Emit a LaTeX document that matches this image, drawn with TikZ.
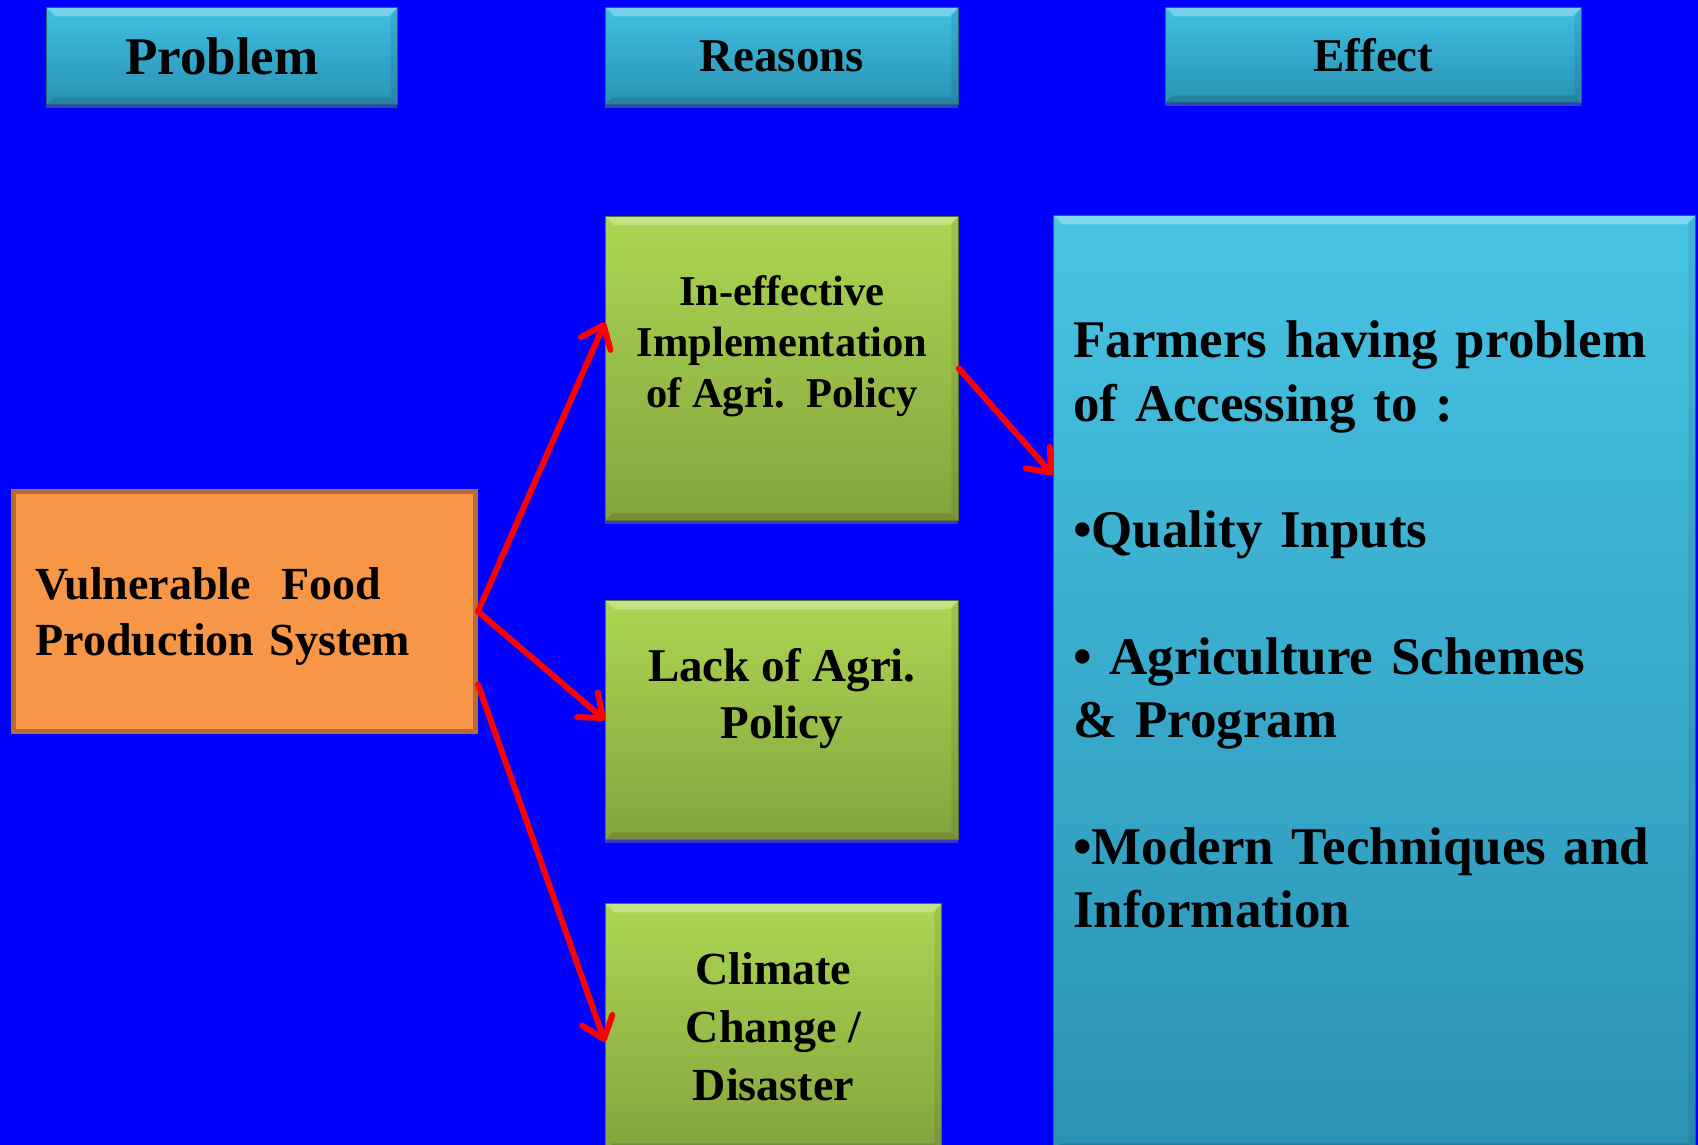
\documentclass[tikz,border=0pt]{standalone}
\usepackage{fontspec}
\setmainfont{Liberation Serif}
\usepackage{tikz}
\usetikzlibrary{arrows.meta,shadows}
\definecolor{bgblue}{RGB}{0,0,255}
\definecolor{hdtop}{RGB}{62,192,226}
\definecolor{hdbot}{RGB}{42,146,180}
\definecolor{grtop}{RGB}{172,214,82}
\definecolor{grbot}{RGB}{132,164,62}
\definecolor{orfill}{RGB}{247,150,70}
\definecolor{ordraw}{RGB}{184,106,50}
\definecolor{arrred}{RGB}{255,0,0}
\tikzstyle{bevel} = [path picture={
  \fill[white,opacity=0.3] (path picture bounding box.north west) -- (path picture bounding box.north east)
    -- ([xshift=-9pt,yshift=-9pt]path picture bounding box.north east) -- ([xshift=9pt,yshift=-9pt]path picture bounding box.north west) -- cycle;
  \fill[black,opacity=0.12] (path picture bounding box.south west) -- (path picture bounding box.south east)
    -- ([xshift=-7pt,yshift=7pt]path picture bounding box.south east) -- ([xshift=7pt,yshift=7pt]path picture bounding box.south west) -- cycle;
  \fill[black,opacity=0.08] (path picture bounding box.north east) -- (path picture bounding box.south east)
    -- ([xshift=-7pt,yshift=7pt]path picture bounding box.south east) -- ([xshift=-7pt,yshift=-9pt]path picture bounding box.north east) -- cycle;}]
\tikzstyle{headbox} = [rectangle, anchor=north west, minimum height=97pt, inner sep=0pt, top color=hdtop, bottom color=hdbot, draw=hdbot!70!black, line width=0.8pt, bevel, drop shadow={shadow xshift=0pt, shadow yshift=-4pt, opacity=0.45}, font=\bfseries\fontsize{47}{56}\selectfont]
\tikzstyle{reasonbox} = [rectangle, anchor=north west, minimum width=353pt, minimum height=239pt, inner sep=0pt, align=center, top color=grtop, bottom color=grbot, draw=grbot!70!black, line width=0.8pt, bevel, drop shadow={shadow xshift=0pt, shadow yshift=-4pt, opacity=0.45}, font=\bfseries\fontsize{47}{57}\selectfont]
\tikzstyle{probbox} = [rectangle, anchor=north west, minimum width=462pt, minimum height=240pt, inner xsep=22pt, text width=418pt, align=left, fill=orfill, draw=ordraw, line width=5pt, font=\bfseries\fontsize{46}{56}\selectfont]
\tikzstyle{effbox} = [rectangle, anchor=north west, minimum width=642pt, minimum height=935pt, inner sep=0pt, top color=hdtop!95!white, bottom color=hdbot, draw=hdbot!70!black, line width=0.8pt, bevel]
\tikzstyle{efftext} = [anchor=north west, inner sep=0pt, text width=610pt, align=left, font=\bfseries\fontsize{53}{63.5}\selectfont]
\tikzstyle{redarrow} = [line width=6pt, line cap=round, color=arrred, -{Straight Barb[length=20pt,width=32pt,round]}]

\begin{document}
\begin{tikzpicture}[x=1pt,y=-1pt]
\useasboundingbox (0,0) rectangle (1698,1145);
\clip (0,0) rectangle (1698,1145);
\fill[bgblue] (0,0) rectangle (1698,1145);
% column headings
\node[headbox, minimum width=351pt, font=\bfseries\fontsize{53}{60}\selectfont] (probhead) at (46,7) {Problem};
\node[headbox, minimum width=353pt] (reashead) at (605,7) {Reasons};
\node[headbox, minimum width=416pt, minimum height=95pt] (effhead) at (1165,7) {Effect};
% problem
\node[probbox] (prob) at (11,489) {\rule{0pt}{41pt}Vulnerable\ \ Food\\Production System};
% reasons
\node[reasonbox, minimum height=304pt, font=\bfseries\fontsize{42.5}{51}\selectfont] (ineff) at (605,216) {In-effective\\Implementation\\of Agri.\ \ Policy\\[3pt]\mbox{}};
\node[reasonbox] (lack) at (605,600) {Lack of Agri.\\Policy\\[-4pt]\mbox{}};
\node[reasonbox, minimum width=336pt, minimum height=247pt, font=\bfseries\fontsize{46}{58}\selectfont] (clim) at (605,903) {Climate\\Change /\\Disaster};
% effect
\node[effbox] (eff) at (1053,215) {};
\node[efftext] (efftxt) at ([xshift=20pt,yshift=-106pt]eff.north west) {Farmers having problem\\of Accessing to :\\[63pt]%
•Quality Inputs\\[63pt]%
• Agriculture Schemes\\\& Program\\[63pt]%
•Modern Techniques and\\Information};
% arrows
\draw[redarrow] (prob.east) -- ([yshift=46pt]ineff.west);
\draw[redarrow] (prob.east) -- (lack.west);
\draw[redarrow] ([yshift=-73pt]prob.east) -- ([yshift=-15pt]clim.west);
\draw[redarrow] (ineff.east) -- ([yshift=208pt]eff.west);
\end{tikzpicture}
\end{document}
